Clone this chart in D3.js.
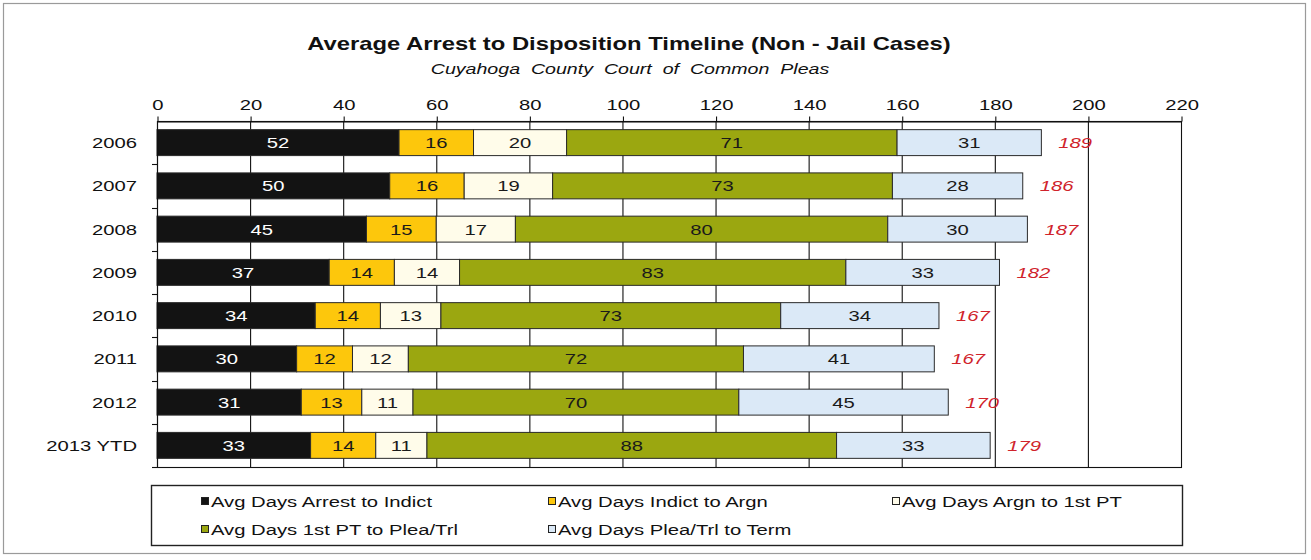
<!DOCTYPE html>
<html>
<head>
<meta charset="utf-8">
<script src="https://cdn.jsdelivr.net/npm/d3@7"></script>
<style>
  html, body { margin: 0; padding: 0; background: #fff; }
  svg { display: block; font-family: Arial, "Liberation Sans", sans-serif; }
</style>
</head>
<body>
<svg id="chart" width="1311" height="560"></svg>
<script>
// ---- data ----
const categories = ["2006", "2007", "2008", "2009", "2010", "2011", "2012", "2013 YTD"];
const seriesNames = [
  "Avg Days Arrest to Indict",
  "Avg Days Indict to Argn",
  "Avg Days Argn to 1st PT",
  "Avg Days 1st PT to Plea/Trl",
  "Avg Days Plea/Trl to Term"
];
const arrestToIndict = [52, 50, 45, 37, 34, 30, 31, 33];
const indictToArgn   = [16, 16, 15, 14, 14, 12, 13, 14];
const argnTo1stPT    = [20, 19, 17, 14, 13, 12, 11, 11];
const firstPTToPlea  = [71, 73, 80, 83, 73, 72, 70, 88];
const pleaToTerm     = [31, 28, 30, 33, 34, 41, 45, 33];
const totals         = [189, 186, 187, 182, 167, 167, 170, 179];
const xTicks = [0, 20, 40, 60, 80, 100, 120, 140, 160, 180, 200, 220];

const titleText = "Average Arrest to Disposition Timeline (Non - Jail Cases)";
const subtitleText = "Cuyahoga  County  Court  of  Common  Pleas";

const seriesValues = [arrestToIndict, indictToArgn, argnTo1stPT, firstPTToPlea, pleaToTerm];
const colors = ["#131313", "#fdc70c", "#fffcea", "#9ba710", "#dbe9f7"];
const labelColors = ["#ffffff", "#1a1a1a", "#1a1a1a", "#1a1a1a", "#1a1a1a"];

// ---- layout ----
const SX = 1.35; // horizontal stretch of glyphs in the reference
const svg = d3.select("#chart");
const plot = { left: 157, right: 1181, top: 121, bottom: 467 };

const x = d3.scaleLinear().domain([0, 220]).range([plot.left, plot.right]);
const y = d3.scaleBand().domain(categories).range([plot.top, plot.bottom])
  .paddingInner(0.4).paddingOuter(0.2);

function stretch(sel, px, py, sx) {
  sel.attr("transform", `translate(${px},${py}) scale(${sx || SX},1)`);
  return sel;
}

// outer frame
svg.append("rect").attr("x", 3.5).attr("y", 3.5).attr("width", 1302).attr("height", 550)
  .attr("fill", "#fff").attr("stroke", "#9a9a9a").attr("stroke-width", 1.2);

// title
const title = svg.append("text").text(titleText)
  .attr("font-size", 17.5).attr("font-weight", "bold").attr("fill", "#111")
  .attr("text-anchor", "middle");
const tw = title.node().getComputedTextLength();
stretch(title, 629, 50, 644 / tw);

const sub = svg.append("text").text(subtitleText)
  .attr("font-size", 15).attr("font-style", "italic").attr("fill", "#111")
  .attr("text-anchor", "middle").style("white-space", "pre");
const sw = sub.node().getComputedTextLength();
stretch(sub, 630, 74, 399 / sw);

// gridlines
svg.append("g").selectAll("line").data(xTicks.filter(t => t > 0 && t < 220)).join("line")
  .attr("x1", d => x(d) + 0.5).attr("x2", d => x(d) + 0.5)
  .attr("y1", plot.top).attr("y2", plot.bottom)
  .attr("stroke", "#111").attr("stroke-width", 1.1);

// plot border (right & bottom)
svg.append("rect").attr("x", plot.left + 0.5).attr("y", plot.top + 0.5)
  .attr("width", plot.right - plot.left).attr("height", plot.bottom - plot.top)
  .attr("fill", "none").attr("stroke", "#111").attr("stroke-width", 1.1);

// stacked data
const stackData = categories.map((c, i) => {
  let acc = 0;
  return seriesValues.map((s, k) => {
    const seg = { cat: c, k, v: s[i], x0: acc, x1: acc + s[i] };
    acc += s[i];
    return seg;
  });
});

const bars = svg.append("g");
stackData.forEach(row => {
  bars.selectAll(null).data(row).join("rect")
    .attr("x", d => x(d.x0)).attr("width", d => x(d.x1) - x(d.x0))
    .attr("y", d => y(d.cat)).attr("height", y.bandwidth())
    .attr("fill", d => colors[d.k])
    .attr("stroke", "#2a2a2a").attr("stroke-width", 1);
});

// segment labels
const labG = svg.append("g").attr("font-size", 15);
stackData.forEach(row => {
  labG.selectAll(null).data(row).join("text")
    .text(d => d.v)
    .attr("text-anchor", "middle")
    .attr("fill", d => labelColors[d.k])
    .each(function (d) {
      stretch(d3.select(this), (x(d.x0) + x(d.x1)) / 2, y(d.cat) + y.bandwidth() / 2 + 5.5);
    });
});

// totals
svg.append("g").selectAll("text").data(categories).join("text")
  .text((c, i) => totals[i])
  .attr("font-size", 15).attr("font-style", "italic").attr("fill", "#d0232b")
  .each(function (c, i) {
    const end = stackData[i][stackData[i].length - 1].x1;
    stretch(d3.select(this), x(end) + 17, y(c) + y.bandwidth() / 2 + 5.5);
  });

// top axis
const xAxis = svg.append("g").attr("transform", `translate(0.5,${plot.top + 0.5})`)
  .call(d3.axisTop(x).tickValues(xTicks).tickSize(5).tickSizeOuter(0));
xAxis.select(".domain").attr("stroke", "#111").attr("stroke-width", 1.1);
xAxis.selectAll(".tick line").attr("stroke", "#111").attr("stroke-width", 1.1);
xAxis.selectAll(".tick text").attr("font-size", 15).attr("fill", "#111")
  .attr("font-family", "Arial, 'Liberation Sans', sans-serif")
  .attr("y", -12).attr("dy", 0)
  .attr("transform", `scale(${SX},1)`);

// left axis: line + ticks at band boundaries
svg.append("line").attr("x1", plot.left + 0.5).attr("x2", plot.left + 0.5)
  .attr("y1", plot.top).attr("y2", plot.bottom + 1)
  .attr("stroke", "#111").attr("stroke-width", 1.1);
const boundaries = categories.map(c => y(c) - y.step() * y.paddingInner() / 2).slice(1)
  .concat([plot.bottom]);
svg.append("g").selectAll("line").data(boundaries).join("line")
  .attr("x1", plot.left - 5).attr("x2", plot.left)
  .attr("y1", d => Math.round(d) + 0.5).attr("y2", d => Math.round(d) + 0.5)
  .attr("stroke", "#111").attr("stroke-width", 1.1);

// category labels
svg.append("g").selectAll("text").data(categories).join("text")
  .text(d => d).attr("font-size", 15).attr("fill", "#111").attr("text-anchor", "end")
  .each(function (d) {
    stretch(d3.select(this), 137, y(d) + y.bandwidth() / 2 + 5.5);
  });

// legend
svg.append("rect").attr("x", 151.5).attr("y", 485.5).attr("width", 1031).attr("height", 60)
  .attr("fill", "#fff").attr("stroke", "#222").attr("stroke-width", 1.4);
const legendPos = [
  { cx: 201, cy: 502 }, { cx: 548, cy: 502 }, { cx: 892, cy: 502 },
  { cx: 201, cy: 530 }, { cx: 548, cy: 530 }
];
const lg = svg.append("g").selectAll("g").data(seriesNames).join("g");
lg.append("rect")
  .attr("x", (d, i) => legendPos[i].cx + 0.5).attr("y", (d, i) => legendPos[i].cy - 4.5)
  .attr("width", 7).attr("height", 7)
  .attr("fill", (d, i) => colors[i]).attr("stroke", "#222").attr("stroke-width", 1);
lg.append("text").text(d => d).attr("font-size", 15).attr("fill", "#111")
  .each(function (d, i) {
    stretch(d3.select(this), legendPos[i].cx + 10, legendPos[i].cy + 5);
  });
</script>
</body>
</html>
